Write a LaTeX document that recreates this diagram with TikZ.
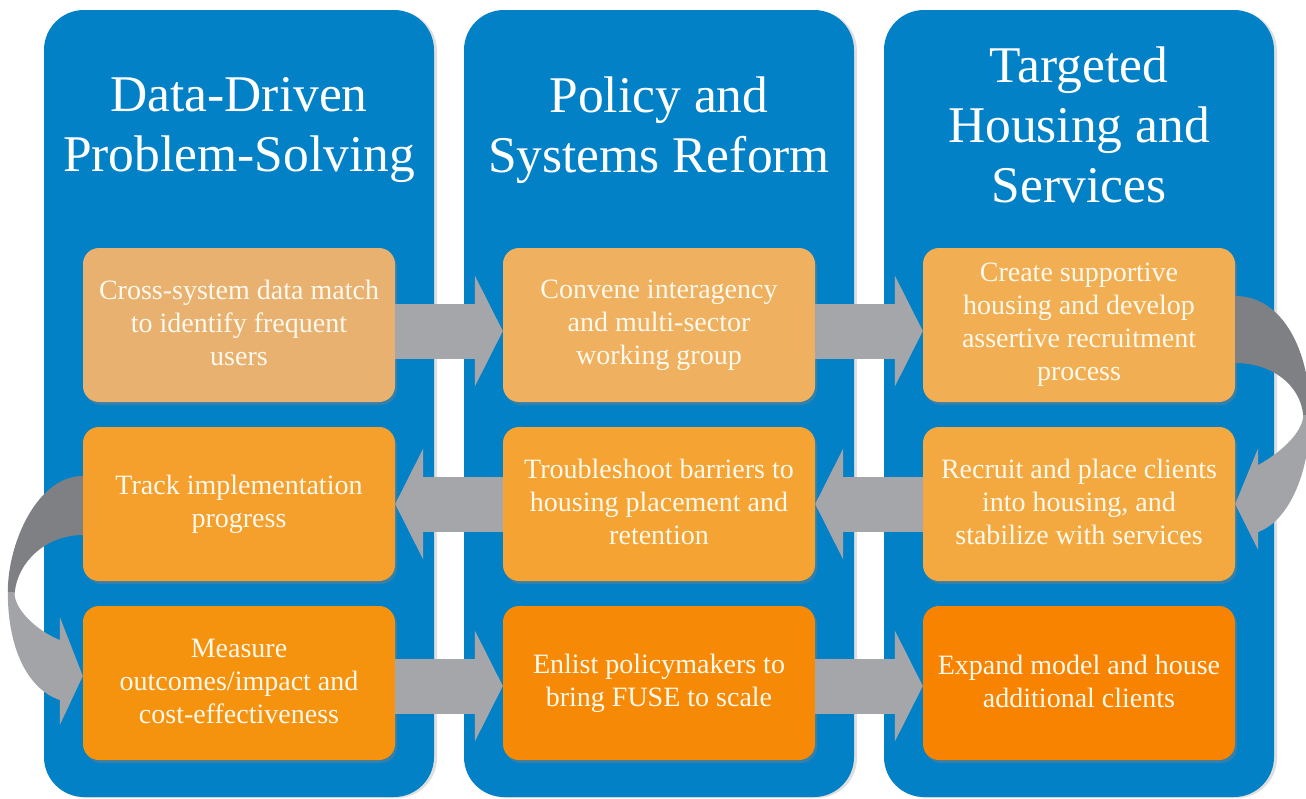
\documentclass[tikz,border=0pt]{standalone}
\usepackage{fontspec}
\setmainfont{Liberation Serif}
\usetikzlibrary{arrows.meta,calc,shadows}

\definecolor{colblue}{HTML}{0281C6}
\definecolor{flowgray}{HTML}{A5A6AA}
\definecolor{benddark}{HTML}{7F8084}
\definecolor{bendlight}{HTML}{A3A4A8}
\definecolor{cream}{HTML}{FFF9EE}
\definecolor{oa}{HTML}{E8B16F}
\definecolor{ob}{HTML}{EFB05F}
\definecolor{oc}{HTML}{F2AE52}
\definecolor{od}{HTML}{F59F2D}
\definecolor{oe}{HTML}{F5A332}
\definecolor{of}{HTML}{F4A940}
\definecolor{og}{HTML}{F5920E}
\definecolor{oh}{HTML}{F68A06}
\definecolor{oi}{HTML}{F78300}

\tikzset{
    column/.style={fill=colblue, rounded corners=40pt, minimum width=390pt, minimum height=787pt,
        drop shadow={opacity=0.25, shadow xshift=3pt, shadow yshift=-1pt}},
    title/.style={text=white, align=center, font=\fontsize{51.5}{60}\selectfont,
        execute at end node={\rule[-10pt]{0pt}{0pt}}},
    task/.style={fill=#1, rounded corners=16pt, minimum width=312pt, minimum height=154pt,
        text=cream, align=center, font=\fontsize{28}{33}\selectfont,
        execute at end node={\rule[-4pt]{0pt}{0pt}},
        drop shadow={opacity=0.4, shadow xshift=2pt, shadow yshift=-3pt}},
    flow/.style={draw=flowgray, line width=55pt, -{Triangle[length=28pt, width=110pt]}},
}

\begin{document}
\begin{tikzpicture}[x=1pt, y=-1pt]
    \useasboundingbox (0,0) rectangle (1306,798);

    \node[column] (p1) at (239,403.5) {};
    \node[column] (p2) at (659,403.5) {};
    \node[column] (p3) at (1079,403.5) {};

    \node[title] (t1) at (239,130) {Data-Driven\\Problem-Solving};
    \node[title] (t2) at (659,130) {Policy and\\Systems Reform};
    \node[title] (t3) at (1079,130) {Targeted\\Housing and\\Services};

    \node[task=oa] (c11) at (239,325) {Cross-system data match\\to identify frequent\\users};
    \node[task=ob] (c12) at (659,325) {Convene interagency\\and multi-sector\\working group};
    \node[task=oc] (c13) at (1079,325) {Create supportive\\housing and develop\\assertive recruitment\\process};
    \node[task=od] (c21) at (239,504) {Track implementation\\progress};
    \node[task=oe] (c22) at (659,504) {Troubleshoot barriers to\\housing placement and\\retention};
    \node[task=of] (c23) at (1079,504) {Recruit and place clients\\into housing, and\\stabilize with services};
    \node[task=og] (c31) at (239,683) {Measure\\outcomes/impact and\\cost-effectiveness};
    \node[task=oh] (c32) at (659,683) {Enlist policymakers to\\bring FUSE to scale};
    \node[task=oi] (c33) at (1079,683) {Expand model and house\\additional clients};

    \draw[flow] ($(c11.east)+(0,6)$) -- ($(c12.west)+(0,6)$);
    \draw[flow] ($(c12.east)+(0,6)$) -- ($(c13.west)+(0,6)$);
    \draw[flow] (c22.west) -- (c21.east);
    \draw[flow] (c23.west) -- (c22.east);
    \draw[flow] ($(c31.east)+(0,3)$) -- ($(c32.west)+(0,3)$);
    \draw[flow] ($(c32.east)+(0,3)$) -- ($(c33.west)+(0,3)$);

    % turn on the right, c13 -> c23
    \fill[benddark] ($(c13.east)+(0,-29)$) .. controls +(47,0) and +(0,-65) .. ($(c13.east)+(75,90)$)
        -- ($(c13.east)+(68,90)$) .. controls +(-3,-30) and +(37,0) .. ($(c13.east)+(0,38)$) -- cycle;
    \fill[bendlight] ($(c23.east)+(75,-89)$) .. controls +(0,55) and +(32,-12) .. ($(c23.east)+(23,28)$)
        -- ($(c23.east)+(23,46)$) -- (c23.east) -- ($(c23.east)+(23,-56)$) -- ($(c23.east)+(23,-39)$)
        .. controls +(27,-15) and +(0,15) .. ($(c23.east)+(68,-89)$) -- cycle;

    % turn on the left, c21 -> c31
    \fill[benddark] ($(c21.west)+(0,-28)$) .. controls +(-45,0) and +(0,-50) .. ($(c21.west)+(-75,88)$)
        -- ($(c21.west)+(-68,88)$) .. controls +(3,-30) and +(-37,0) .. ($(c21.west)+(0,31)$) -- cycle;
    \fill[bendlight] ($(c31.west)+(-75,-91)$) .. controls +(0,60) and +(-30,-10) .. ($(c31.west)+(-23,17)$)
        -- ($(c31.west)+(-23,42)$) -- ($(c31.west)+(0,-7)$) -- ($(c31.west)+(-23,-66)$) -- ($(c31.west)+(-23,-43)$)
        .. controls +(-25,-10) and +(-2,15) .. ($(c31.west)+(-68,-91)$) -- cycle;
\end{tikzpicture}
\end{document}
